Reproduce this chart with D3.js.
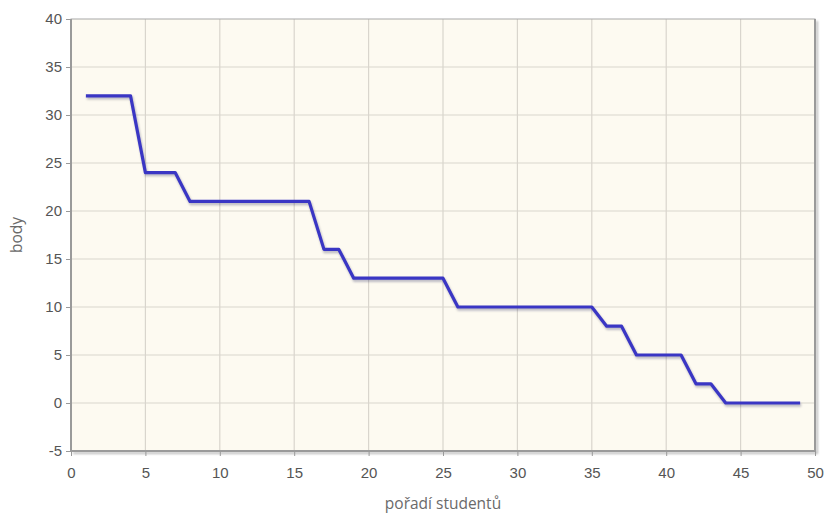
<!DOCTYPE html>
<html lang="cs">
<head>
  <meta charset="UTF-8" />
  <title>Body studentů</title>
  <script src="https://d3js.org/d3.v7.min.js"></script>
  <style>
    body {
      margin: 0;
      background: #ffffff;
      font-family: 'Open Sans', 'DejaVu Sans', sans-serif;
    }
    .tick text {
      font-size: 15px;
      fill: #555;
    }
    .axis-label {
      font-size: 15.5px;
      fill: #6a6a6a;
    }
  </style>
</head>
<body>
  <div id="chart"></div>

  <script>
    // order of students (x) and their points (y)
    const students = [1, 2, 3, 4, 5, 6, 7, 8, 9, 10, 11, 12, 13, 14, 15, 16, 17, 18, 19, 20,
      21, 22, 23, 24, 25, 26, 27, 28, 29, 30, 31, 32, 33, 34, 35, 36, 37, 38, 39, 40,
      41, 42, 43, 44, 45, 46, 47, 48, 49];
    const points = [32, 32, 32, 32, 24, 24, 24, 21, 21, 21, 21, 21, 21, 21, 21, 21, 16, 16, 13, 13,
      13, 13, 13, 13, 13, 10, 10, 10, 10, 10, 10, 10, 10, 10, 10, 8, 8, 5, 5, 5,
      5, 2, 2, 0, 0, 0, 0, 0, 0];
    const xTicks = [0, 5, 10, 15, 20, 25, 30, 35, 40, 45, 50];
    const yTicks = [-5, 0, 5, 10, 15, 20, 25, 30, 35, 40];

    const width = 825, height = 518;
    const margin = { top: 19, right: 10, bottom: 67, left: 71 };
    const innerWidth = 815 - margin.left;
    const innerHeight = 451 - margin.top;

    const data = students.map((s, i) => ({ x: s, y: points[i] }));

    const svg = d3.select("#chart").append("svg")
      .attr("width", width)
      .attr("height", height);

    const defs = svg.append("defs");
    const f = defs.append("filter").attr("id", "blur").attr("x", "-10%").attr("y", "-10%")
      .attr("width", "120%").attr("height", "120%");
    f.append("feGaussianBlur").attr("stdDeviation", 1.2);

    const g = svg.append("g")
      .attr("transform", `translate(${margin.left},${margin.top})`);

    const x = d3.scaleLinear().domain([0, 50]).range([0, innerWidth]);
    const y = d3.scaleLinear().domain([-5, 40]).range([innerHeight, 0]);

    // plot background
    g.append("rect")
      .attr("width", innerWidth)
      .attr("height", innerHeight)
      .attr("fill", "#fdfaf1");

    // grid
    g.append("g")
      .selectAll("line")
      .data(xTicks.slice(1, -1))
      .join("line")
      .attr("x1", d => x(d)).attr("x2", d => x(d))
      .attr("y1", 0).attr("y2", innerHeight)
      .attr("stroke", "#d9d5cd").attr("stroke-width", 1.2);

    g.append("g")
      .selectAll("line")
      .data(yTicks.slice(1, -1))
      .join("line")
      .attr("x1", 0).attr("x2", innerWidth)
      .attr("y1", d => y(d)).attr("y2", d => y(d))
      .attr("stroke", "#d9d5cd").attr("stroke-width", 1.2);

    // frame shadow (right + bottom)
    g.append("path")
      .attr("d", `M${innerWidth + 2},2 V${innerHeight + 2} H2`)
      .attr("fill", "none")
      .attr("stroke", "#bbb")
      .attr("stroke-width", 2)
      .attr("filter", "url(#blur)");

    // frame
    g.append("rect")
      .attr("width", innerWidth)
      .attr("height", innerHeight)
      .attr("fill", "none")
      .attr("stroke", "#a8a8a8")
      .attr("stroke-width", 1);
    g.append("path")
      .attr("d", `M0,0 V${innerHeight} H${innerWidth} V0`)
      .attr("fill", "none")
      .attr("stroke", "#9a9a9a")
      .attr("stroke-width", 2);

    // axes
    const fmt = d => String(d);  // plain hyphen for negatives, as in the original
    const xAxis = d3.axisBottom(x).tickValues(xTicks).tickFormat(fmt).tickSize(5).tickSizeOuter(0);
    const gx = g.append("g")
      .attr("transform", `translate(0,${innerHeight})`)
      .call(xAxis);
    gx.select(".domain").remove();
    gx.selectAll(".tick line").attr("stroke", "#999");
    gx.selectAll(".tick text").attr("dy", "1.25em");

    const yAxis = d3.axisLeft(y).tickValues(yTicks).tickFormat(fmt).tickSize(5).tickSizeOuter(0);
    const gy = g.append("g").call(yAxis);
    gy.select(".domain").remove();
    gy.selectAll(".tick line").attr("stroke", "#999");
    gy.selectAll(".tick text").attr("x", -9);

    // line
    const line = d3.line().x(d => x(d.x)).y(d => y(d.y));

    g.append("path")
      .datum(data)
      .attr("d", line)
      .attr("transform", "translate(1,2)")
      .attr("fill", "none")
      .attr("stroke", "rgba(0,0,60,0.25)")
      .attr("stroke-width", 3.5)
      .attr("filter", "url(#blur)");

    g.append("path")
      .datum(data)
      .attr("d", line)
      .attr("fill", "none")
      .attr("stroke", "#3a36c4")
      .attr("stroke-width", 3.2)
      .attr("stroke-linejoin", "round");

    // axis labels
    svg.append("text")
      .attr("class", "axis-label")
      .attr("x", margin.left + innerWidth / 2)
      .attr("y", 509)
      .attr("text-anchor", "middle")
      .text("pořadí studentů");

    svg.append("text")
      .attr("class", "axis-label")
      .attr("transform", `translate(22,${margin.top + innerHeight / 2}) rotate(-90)`)
      .attr("text-anchor", "middle")
      .text("body");
  </script>
</body>
</html>
